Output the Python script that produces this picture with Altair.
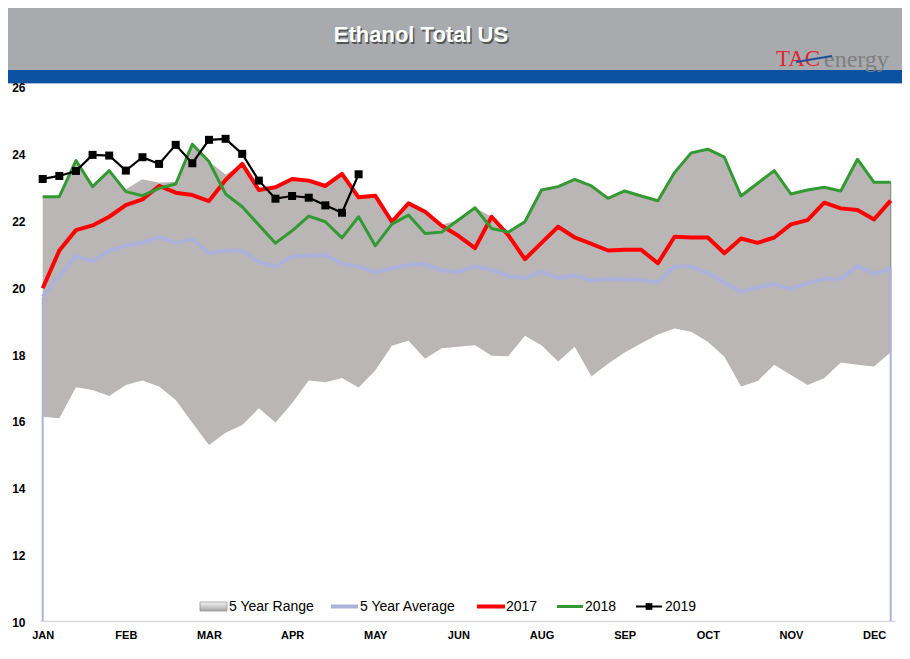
import json
import altair as alt
import pandas as pd

# ---------------- data ----------------
weeks = list(range(52))
month_ticks = [0, 5, 10, 15, 20, 25, 30, 35, 40, 45, 50]
month_labels = ["JAN", "FEB", "MAR", "APR", "MAY", "JUN", "AUG", "SEP", "OCT", "NOV", "DEC"]
y_ticks = [10, 12, 14, 16, 18, 20, 22, 24, 26]

range_max = [22.69, 22.69, 23.77, 22.99, 23.47, 22.91, 23.21, 23.11, 23.14, 24.26,
             23.74, 23.35, 23.67, 22.89, 22.97, 23.22, 23.17, 23.01, 23.37, 22.67,
             22.72, 21.94, 22.49, 22.24, 21.85, 21.99, 22.36, 22.09, 21.63, 21.94,
             22.89, 22.99, 23.21, 23.01, 22.64, 22.86, 22.71, 22.57, 23.41, 24.00,
             24.11, 23.87, 22.71, 23.09, 23.47, 22.77, 22.89, 22.97, 22.86, 23.81,
             23.12, 23.12]
range_min = [16.11, 16.06, 16.99, 16.91, 16.73, 17.06, 17.19, 17.01, 16.61, 15.93,
             15.26, 15.63, 15.86, 16.36, 15.94, 16.51, 17.19, 17.14, 17.27, 16.98,
             17.49, 18.23, 18.38, 17.84, 18.16, 18.20, 18.25, 17.93, 17.92, 18.53,
             18.25, 17.76, 18.20, 17.31, 17.69, 18.03, 18.31, 18.57, 18.75, 18.65,
             18.35, 17.90, 17.01, 17.18, 17.66, 17.36, 17.06, 17.26, 17.73, 17.66,
             17.61, 18.04]
avg_5yr = [19.70, 20.30, 20.92, 20.75, 21.08, 21.22, 21.31, 21.49, 21.30, 21.42,
           21.00, 21.07, 21.07, 20.73, 20.60, 20.90, 20.92, 20.95, 20.68, 20.60,
           20.43, 20.55, 20.65, 20.67, 20.48, 20.44, 20.60, 20.50, 20.32, 20.25,
           20.45, 20.25, 20.33, 20.18, 20.23, 20.22, 20.20, 20.13, 20.60, 20.60,
           20.40, 20.12, 19.85, 19.98, 20.08, 19.93, 20.10, 20.23, 20.23, 20.62,
           20.38, 20.55]
y2017 = [19.95, 21.08, 21.69, 21.83, 22.09, 22.44, 22.61, 23.01, 22.81, 22.74,
         22.56, 23.19, 23.67, 22.89, 22.97, 23.22, 23.17, 23.01, 23.37, 22.67,
         22.72, 21.94, 22.49, 22.24, 21.82, 21.52, 21.15, 22.09, 21.54, 20.82,
         21.31, 21.79, 21.47, 21.28, 21.08, 21.10, 21.10, 20.70, 21.49, 21.47,
         21.47, 21.00, 21.44, 21.31, 21.47, 21.86, 21.99, 22.51, 22.34, 22.29,
         22.01, 22.57]
y2018 = [22.69, 22.69, 23.77, 22.99, 23.47, 22.84, 22.72, 22.94, 23.07, 24.26,
         23.74, 22.77, 22.39, 21.84, 21.30, 21.67, 22.11, 21.94, 21.46, 22.09,
         21.22, 21.87, 22.14, 21.59, 21.63, 21.99, 22.36, 21.74, 21.63, 21.94,
         22.89, 22.99, 23.21, 23.01, 22.64, 22.86, 22.71, 22.57, 23.41, 24.00,
         24.11, 23.87, 22.71, 23.09, 23.47, 22.77, 22.89, 22.97, 22.86, 23.81,
         23.12, 23.12]
y2019 = [23.22, 23.31, 23.46, 23.94, 23.92, 23.47, 23.87, 23.67, 24.24, 23.69,
         24.39, 24.42, 23.97, 23.17, 22.63, 22.71, 22.66, 22.43, 22.21, 23.36]

title_text = "Ethanol Total US"
legend_labels = ["5 Year Range", "5 Year Average", "2017", "2018", "2019"]

# ---------------- tables ----------------
df = pd.DataFrame({"week": weeks, "max": range_max, "min": range_min,
                   "avg": avg_5yr, "y2017": y2017, "y2018": y2018})
df19 = pd.DataFrame({"week": weeks[:len(y2019)], "v": y2019})
# Excel's outlined average area drops to the axis floor at both ends
avg_ends = pd.DataFrame({"week": [weeks[0], weeks[-1]],
                         "top": [avg_5yr[0], avg_5yr[-1]],
                         "floor": [y_ticks[0], y_ticks[0]]})
range_edge = pd.DataFrame({"week": [weeks[-1]], "top": [range_max[-1]],
                           "bot": [range_min[-1]]})
one = pd.DataFrame({"a": [0]})

W, H = 855, 535
FONT = "Liberation Sans, Arial, sans-serif"

label_expr = f"{json.dumps(month_labels)}[indexof({json.dumps(month_ticks)}, datum.value)]"

x_enc = alt.X("week:Q",
              scale=alt.Scale(domain=[-0.162, 51.26], nice=False, zero=False),
              axis=alt.Axis(values=month_ticks, labelExpr=label_expr, title=None,
                            grid=False, ticks=False, domain=True, domainColor="#D9D9D9",
                            domainWidth=1.5, labelPadding=8, labelFont=FONT,
                            labelFontSize=11, labelFontWeight="bold", labelColor="#000000",
                            labelAngle=0))
y_scale = alt.Scale(domain=[y_ticks[0], y_ticks[-1]], nice=False, zero=False)
y_axis = alt.Axis(values=y_ticks, title=None, grid=False, ticks=False, domain=False,
                  labelPadding=15, labelFont=FONT, labelFontSize=12, labelOffset=1.5,
                  labelFontWeight="bold", labelColor="#000000", zindex=1)

# ---------------- header ----------------
header = alt.Chart(one).mark_rect(color="#A8AAAD").encode(
    x=alt.value(-40), x2=alt.value(870), y=alt.value(-86), y2=alt.value(-16))
band = alt.Chart(one).mark_rect(color="#0A53A3").encode(
    x=alt.value(-40), x2=alt.value(870), y=alt.value(-16), y2=alt.value(-3))
band_line = alt.Chart(one).mark_rect(color="#A9B9D3").encode(
    x=alt.value(-40), x2=alt.value(870), y=alt.value(-3), y2=alt.value(-2))
title_shadow = alt.Chart(one).mark_text(
    text=title_text, font=FONT, fontSize=22, fontWeight="bold", color="#3A3A3A",
    align="center", baseline="middle", opacity=0.75).encode(
    x=alt.value(382.5), y=alt.value(-49.5))
title = alt.Chart(one).mark_text(
    text=title_text, font=FONT, fontSize=22, fontWeight="bold", color="#FFFFFF",
    align="center", baseline="middle").encode(x=alt.value(381), y=alt.value(-51))
SERIF = "Liberation Serif, Times New Roman, serif"
logo_tac = alt.Chart(one).mark_text(
    text="TAC", font=SERIF, fontSize=23, color="#E0262E", align="left",
    baseline="alphabetic").encode(x=alt.value(736), y=alt.value(-20))
logo_energy = alt.Chart(one).mark_text(
    text="energy", font=SERIF, fontSize=24, color="#7F7F7F", align="left",
    baseline="alphabetic").encode(x=alt.value(784), y=alt.value(-19))
logo_swoosh = alt.Chart(one).mark_rule(color="#1F4E9C", strokeWidth=2).encode(
    x=alt.value(756), x2=alt.value(792), y=alt.value(-24), y2=alt.value(-30))

# ---------------- data layers ----------------
area = alt.Chart(df).mark_area(color="#BAB6B5").encode(
    x=x_enc, y=alt.Y("max:Q", scale=y_scale, axis=y_axis), y2="min:Q")
edge = alt.Chart(range_edge).mark_rule(color="#8E8A8A", strokeWidth=1.2).encode(
    x=x_enc, y=alt.Y("top:Q", scale=y_scale, axis=y_axis), y2="bot:Q")
avg_drop = alt.Chart(avg_ends).mark_rule(color="#ADB2DA", strokeWidth=2).encode(
    x=x_enc, y=alt.Y("top:Q", scale=y_scale, axis=y_axis), y2="floor:Q")
avg_line = alt.Chart(df).mark_line(color="#ADB2DA", strokeWidth=4,
                                   strokeJoin="round").encode(
    x=x_enc, y=alt.Y("avg:Q", scale=y_scale, axis=y_axis))
line17 = alt.Chart(df).mark_line(color="#FF0000", strokeWidth=4, strokeJoin="round").encode(
    x=x_enc, y=alt.Y("y2017:Q", scale=y_scale, axis=y_axis))
line18 = alt.Chart(df).mark_line(color="#339933", strokeWidth=3, strokeJoin="round").encode(
    x=x_enc, y=alt.Y("y2018:Q", scale=y_scale, axis=y_axis))
line19 = alt.Chart(df19).mark_line(color="#000000", strokeWidth=2.2).encode(
    x=x_enc, y=alt.Y("v:Q", scale=y_scale, axis=y_axis))
pts19 = alt.Chart(df19).mark_point(shape="square", filled=True, color="#000000",
                                   size=64, opacity=1).encode(
    x=x_enc, y=alt.Y("v:Q", scale=y_scale, axis=y_axis))

# ---------------- legend ----------------
LY = 520.5
def ltext(txt, x):
    return alt.Chart(one).mark_text(text=txt, font=FONT, fontSize=14, color="#000000",
                                    align="left", baseline="middle").encode(
        x=alt.value(x), y=alt.value(LY))

def lline(x1, x2, color, w):
    return alt.Chart(one).mark_rule(color=color, strokeWidth=w).encode(
        x=alt.value(x1), x2=alt.value(x2), y=alt.value(LY), y2=alt.value(LY))

leg_box = alt.Chart(one).mark_rect(
    fill=alt.Gradient(gradient="linear",
                      stops=[alt.GradientStop(color="#F4F4F4", offset=0),
                             alt.GradientStop(color="#A9A5A5", offset=1)],
                      x1=0, x2=0, y1=0, y2=1),
    stroke="#8C8C8C", strokeWidth=0.7).encode(
    x=alt.value(160), x2=alt.value(187), y=alt.value(516), y2=alt.value(525))
leg_pt = alt.Chart(one).mark_point(shape="square", filled=True, color="#000000",
                                   size=45, opacity=1).encode(
    x=alt.value(609), y=alt.value(LY))

legend = [
    leg_box, ltext(legend_labels[0], 189),
    lline(291, 318, "#ADB2DA", 4), ltext(legend_labels[1], 320),
    lline(437, 465, "#FF0000", 4), ltext(legend_labels[2], 466),
    lline(517, 543, "#339933", 3), ltext(legend_labels[3], 545),
    lline(596, 622, "#000000", 2), leg_pt, ltext(legend_labels[4], 625),
]

chart = alt.layer(
    header, band, band_line, title_shadow, title, logo_tac, logo_energy, logo_swoosh,
    area, edge, avg_drop, avg_line, line17, line18, line19, pts19, *legend
).properties(
    width=W, height=H,
    padding={"left": 32, "top": 78, "right": 7, "bottom": 30},
    autosize=alt.AutoSizeParams(type="none"),
    background="#FFFFFF",
).configure_view(stroke=None)

chart.save("out.html", embed_options={"renderer": "svg", "actions": False})
